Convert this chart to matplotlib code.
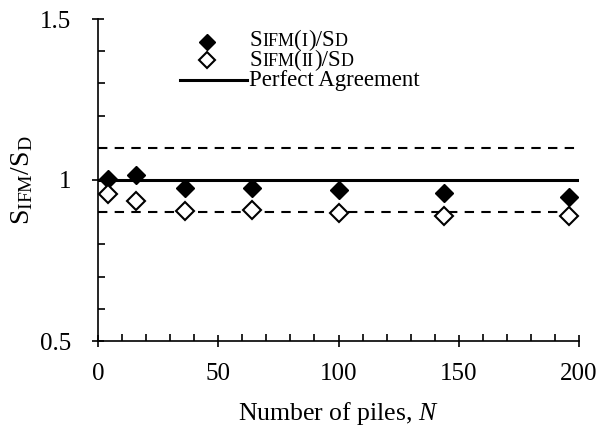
import matplotlib
matplotlib.use('Agg')
import matplotlib.pyplot as plt
from matplotlib.ticker import MultipleLocator
from matplotlib.offsetbox import TextArea, HPacker, AnchoredOffsetbox

plt.rcParams['font.family'] = ['Liberation Serif', 'DejaVu Serif']
plt.rcParams['mathtext.fontset'] = 'custom'
plt.rcParams['mathtext.rm'] = 'Liberation Serif'
plt.rcParams['mathtext.it'] = 'Liberation Serif:italic'

# data
n_piles = [4, 16, 36, 64, 100, 144, 196]
ratio_ifm1 = [1.003, 1.016, 0.975, 0.975, 0.968, 0.959, 0.947]
ratio_ifm2 = [0.958, 0.934, 0.903, 0.907, 0.899, 0.888, 0.888]
bounds = [0.9, 1.1]

fig = plt.figure(figsize=(6.02, 4.30), dpi=100)
ax = fig.add_axes([98 / 602, 89 / 430, 481 / 602, 322 / 430])

# perfect agreement and +/-10% lines
ax.axhline(1.0, color='black', lw=2.2, zorder=2)
for b in bounds:
    ax.axhline(b, color='black', lw=1.5, ls=(0, (4.5, 3.5)), zorder=2)

ax.plot(n_piles, ratio_ifm1, ls='none', marker='D', ms=9.5, mfc='black', mec='black', zorder=3, clip_on=False)
ax.plot(n_piles, ratio_ifm2, ls='none', marker='D', ms=9.5, mfc='white', mec='black', mew=1.5, zorder=3, clip_on=False)

ax.set_xlim(0, 200)
ax.set_ylim(0.5, 1.5)
ax.xaxis.set_major_locator(MultipleLocator(50))
ax.xaxis.set_minor_locator(MultipleLocator(10))
ax.yaxis.set_major_locator(MultipleLocator(0.5))
ax.yaxis.set_minor_locator(MultipleLocator(0.1))
ax.yaxis.set_major_formatter(plt.FuncFormatter(lambda v, p: '%g' % v))

for s in ['top', 'right']:
    ax.spines[s].set_visible(False)
for s in ['left', 'bottom']:
    ax.spines[s].set_linewidth(1.2)
ax.tick_params(which='major', direction='inout', length=9, width=1.2, labelsize=18)
ax.tick_params(which='minor', direction='in', length=5, width=1.2)
ax.tick_params(axis='y', which='major', pad=15)
ax.tick_params(axis='x', which='major', pad=11)

ax.set_xlabel('Number of piles, $\\it{N}$', fontsize=18.5, labelpad=11)
ax.set_ylabel('$\\mathrm{S_{IFM}/S_D}$', fontsize=20, labelpad=3)

# legend, drawn by hand for the small caps
ax.plot([0.226], [0.930], transform=ax.transAxes, marker='D', ms=8, mfc='black', mec='black', ls='none', clip_on=False)
ax.plot([0.226], [0.872], transform=ax.transAxes, marker='D', ms=8, mfc='white', mec='black', mew=1.5, ls='none', clip_on=False)
ax.plot([0.170, 0.309], [0.811, 0.811], transform=ax.transAxes, color='black', lw=2.2, clip_on=False)


def small_caps(parts, loc_y):
    boxes = []
    for txt, big in parts:
        boxes.append(TextArea(txt, textprops=dict(fontsize=16.5 if big else 13, family='Liberation Serif')))
    pack = HPacker(children=boxes, align='baseline', pad=0, sep=0)
    ab = AnchoredOffsetbox(loc='center left', child=pack, pad=0, frameon=False,
                           bbox_to_anchor=(0.315, loc_y), bbox_transform=ax.transAxes, borderpad=0)
    ax.add_artist(ab)


small_caps([('S', True), ('IFM', False), ('(', True), ('I', False), (')/S', True), ('D', False)], 0.934)
small_caps([('S', True), ('IFM', False), ('(', True), ('II', False), (')/S', True), ('D', False)], 0.872)
ax.text(0.313, 0.808, 'Perfect Agreement', transform=ax.transAxes, fontsize=16.5, va='center', ha='left')

fig.savefig('out.png', dpi=100)
